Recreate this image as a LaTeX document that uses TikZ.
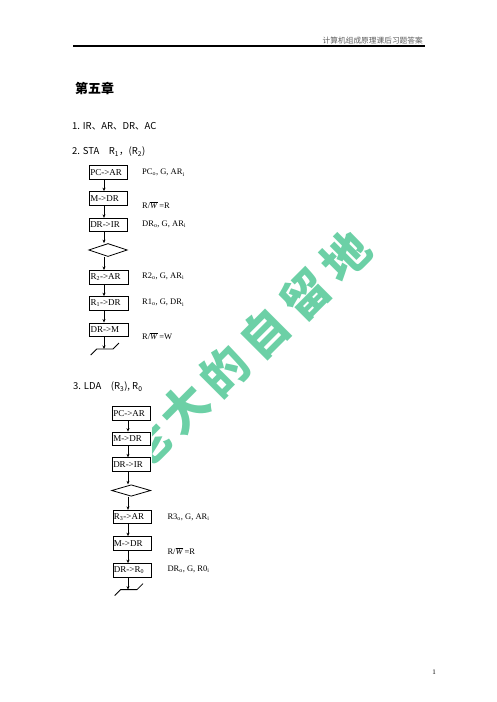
\documentclass[tikz,border=0pt]{standalone}
\usepackage{fontspec}
\setmainfont{Liberation Serif}
\newfontfamily\cjk{Noto Sans CJK SC}
\usetikzlibrary{arrows.meta,shapes.geometric,calc}
\definecolor{wm}{RGB}{108,208,166}
\definecolor{hdr}{RGB}{90,90,90}
\newcommand{\wbar}{$\overline{\mbox{\textit{W}}}$}
\begin{document}
\begin{tikzpicture}[x=1pt,y=-1pt,
  box/.style={draw,fill=white,line width=0.8pt,minimum height=13.5pt,inner xsep=1pt,inner ysep=0pt,
     text width=36.5pt,align=left,font=\fontsize{9}{10}\selectfont},
  dia/.style={draw,fill=white,diamond,line width=0.8pt,minimum width=38.5pt,minimum height=13pt,inner sep=0pt},
  lbl/.style={anchor=west,inner sep=0pt,font=\fontsize{8.5}{10}\selectfont},
  line/.style={anchor=west,inner sep=0pt,font=\cjk\fontsize{9.5}{11}\selectfont},
  arr/.style={line width=0.8pt,-{Stealth[length=3.5pt,width=3pt]}},
  endl/.style={line width=0.8pt}]
\useasboundingbox (0,0) rectangle (496,702);

% watermark
\begin{scope}
\clip (152,0) rectangle (496,702);
\foreach \c/\x/\y in {地/345/256, 留/305/295, 自/264/333, 的/224/371, 大/184/408, 老/146/444}{
  \node[text=wm,rotate=45,font=\cjk\bfseries\fontsize{47}{47}\selectfont,inner sep=0pt] at (\x,\y) {\c};
}
\end{scope}

% header
\node[anchor=east,inner sep=0pt,text=hdr,font=\cjk\fontsize{7.7}{9}\selectfont] (hd) at (423,41) {计算机组成原理课后习题答案};
\coordinate (hl) at (73,46);
\coordinate (hr) at (425,46);
\draw[line width=1.3pt] (hl) -- (hr);

\node[anchor=west,inner sep=0pt,font=\cjk\bfseries\fontsize{13}{15}\selectfont] (t) at (75,88) {第五章};
\node[line] (l1) at (72,126) {1. IR、AR、DR、AC};
\node[line] (l2) at (72,152) {2. STA\quad R\textsubscript{1}，(R\textsubscript{2})};
\node[line] (l3) at (73,387) {3. LDA\quad (R\textsubscript{3}), R\textsubscript{0}};

% flowchart 1
\coordinate (ax) at (104,0);
\node[box] (a1) at (108.5,172.5) {PC->AR};
\node[box] (a2) at (108.5,198.3) {M->DR};
\node[box] (a3) at (108.5,225) {DR->IR};
\node[dia] (a4) at (108,250) {};
\node[box] (a5) at (108.8,277.2) {R\textsubscript{2}->AR};
\node[box] (a6) at (108.8,303.3) {R\textsubscript{1}->DR};
\node[box] (a7) at (108.8,329.7) {DR->M};
\coordinate (ae) at (104,349);
\draw[arr] (a1.south -| ax) -- (a2.north -| ax);
\draw[arr] (a2.south -| ax) -- (a3.north -| ax);
\draw[arr] (a3.south -| ax) -- (a4.north -| ax);
\draw[arr] (a4.south -| ax) -- (a5.north -| ax);
\draw[arr] (a5.south -| ax) -- (a6.north -| ax);
\draw[arr] (a6.south -| ax) -- (a7.north -| ax);
\draw[arr] (a7.south -| ax) -- (ae);
\draw[endl] ($(ae)+(-13.3,6)$) -- ($(ae)+(-7.3,0)$) -- ($(ae)+(9,0)$) -- ($(ae)+(15,-6)$);

\node[lbl] (b1) at (142,172.7) {PC\textsubscript{o}, G, AR\textsubscript{i}};
\node[lbl] (b2) at (142,205) {R/\wbar\,=R};
\node[lbl] (b3) at (142,224) {DR\textsubscript{o}, G, AR\textsubscript{i}};
\node[lbl] (b4) at (142,276) {R2\textsubscript{o}, G, AR\textsubscript{i}};
\node[lbl] (b5) at (142,302.7) {R1\textsubscript{o}, G, DR\textsubscript{i}};
\node[lbl] (b6) at (142,336) {R/\wbar\,=W};

% flowchart 2
\coordinate (cx) at (128,0);
\node[box] (c1) at (131.5,413.5) {PC->AR};
\node[box] (c2) at (131.5,438.8) {M->DR};
\node[box] (c3) at (131.5,464.5) {DR->IR};
\node[dia,minimum width=39pt,minimum height=11.5pt] (c4) at (131.2,490.5) {};
\node[box] (c5) at (132.2,517) {R\textsubscript{3}->AR};
\node[box] (c6) at (132.2,543.3) {M->DR};
\node[box] (c7) at (132.2,570.3) {DR->R\textsubscript{0}};
\coordinate (ce) at (128,589.6);
\draw[arr] (c1.south -| cx) -- (c2.north -| cx);
\draw[arr] (c2.south -| cx) -- (c3.north -| cx);
\draw[arr] (c3.south -| cx) -- (c4.north -| cx);
\draw[arr] (c4.south -| cx) -- (c5.north -| cx);
\draw[arr] (c5.south -| cx) -- (c6.north -| cx);
\draw[arr] (c6.south -| cx) -- (c7.north -| cx);
\draw[arr] (c7.south -| cx) -- (ce);
\draw[endl] ($(ce)+(-13.3,6)$) -- ($(ce)+(-7.3,0)$) -- ($(ce)+(9,0)$) -- ($(ce)+(15,-6)$);

\node[lbl] (d1) at (167.3,517.3) {R3\textsubscript{o}, G, AR\textsubscript{i}};
\node[lbl] (d2) at (167.3,551) {R/\wbar\,=R};
\node[lbl] (d3) at (167.3,569.3) {DR\textsubscript{o}, G, R0\textsubscript{i}};

\node[inner sep=0pt,font=\fontsize{7}{8}\selectfont] (pg) at (434,672) {1};
\end{tikzpicture}
\end{document}
